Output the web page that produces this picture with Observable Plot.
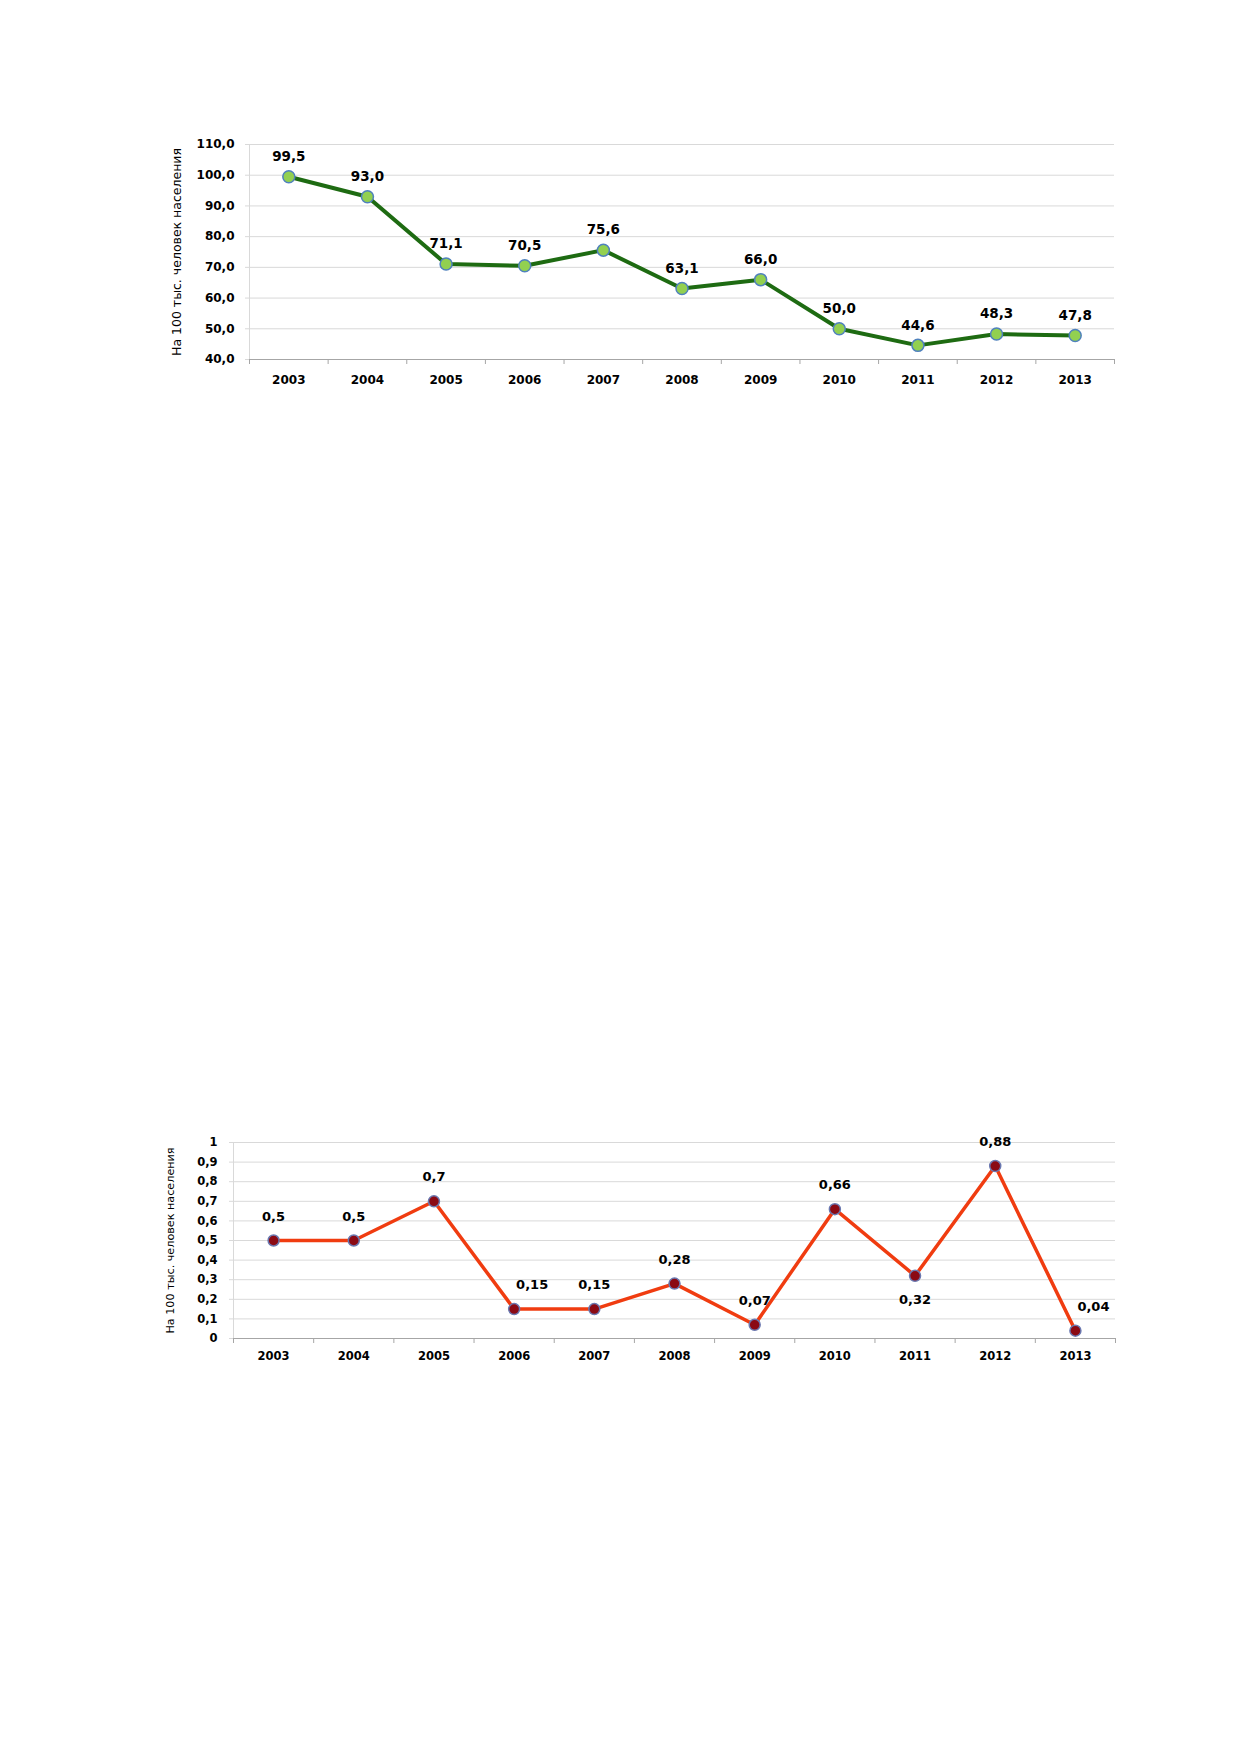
<!DOCTYPE html>
<html><head><meta charset="utf-8">
<script src="https://cdn.jsdelivr.net/npm/d3@7"></script>
<script src="https://cdn.jsdelivr.net/npm/@observablehq/plot@0.6"></script>
<style>
body{margin:0;background:#fff;width:1239px;height:1752px;position:relative;overflow:hidden;}
.chart{position:absolute;left:0;}
</style></head><body>
<div id="c1" class="chart" style="top:100px"></div>
<div id="c2" class="chart" style="top:1100px"></div>
<script>
const years = [2003, 2004, 2005, 2006, 2007, 2008, 2009, 2010, 2011, 2012, 2013];
const rateTop = [99.5, 93.0, 71.1, 70.5, 75.6, 63.1, 66.0, 50.0, 44.6, 48.3, 47.8];
const rateBottom = [0.5, 0.5, 0.7, 0.15, 0.15, 0.28, 0.07, 0.66, 0.32, 0.88, 0.04];
const yTicksTop = [40, 50, 60, 70, 80, 90, 100, 110];
const yTicksBottom = [0, 0.1, 0.2, 0.3, 0.4, 0.5, 0.6, 0.7, 0.8, 0.9, 1];
const axisTitle = "На 100 тыс. человек населения";
const labelsBelowYears = [2011];
const labelsRightYears = [2006, 2013];

const comma = s => String(s).replace(".", ",");
const font = "DejaVu Sans, sans-serif";
const bounds = [...years.map(y => y - 0.5), years[years.length - 1] + 0.5];
const xDomain = [years[0] - 0.5, years[years.length - 1] + 0.5];

const topData = years.map((year, i) => ({year, value: rateTop[i]}));
const botData = years.map((year, i) => ({year, value: rateBottom[i]}));

const chart1 = Plot.plot({
  width: 1239, height: 320,
  marginLeft: 249, marginRight: 125, marginTop: 44, marginBottom: 61,
  style: {fontFamily: font, background: "white", overflow: "visible"},
  x: {type: "linear", domain: xDomain},
  y: {domain: [40, 110]},
  marks: [
    Plot.gridY(yTicksTop, {stroke: "#d9d9d9", strokeOpacity: 1}),
    Plot.ruleX([xDomain[0]], {stroke: "#d9d9d9"}),
    Plot.axisY({ticks: yTicksTop, tickSize: 4, tickPadding: 11, stroke: "#d9d9d9", fill: "#000",
      tickFormat: d => comma(d.toFixed(1)), fontSize: 12, fontWeight: "bold", label: null}),
    Plot.axisX({ticks: bounds, tickSize: 5, tickFormat: () => "", stroke: "#a6a6a6", label: null}),
    Plot.axisX({ticks: years, tickSize: 0, tickPadding: 16, tickFormat: d => String(d),
      fontSize: 12, fontWeight: "bold", fill: "#000", label: null}),
    Plot.ruleY([40], {stroke: "#a6a6a6"}),
    Plot.line(topData, {x: "year", y: "value", stroke: "#1e6b12", strokeWidth: 4}),
    Plot.dot(topData, {x: "year", y: "value", r: 6, fill: "#92d050", stroke: "#4f81bd", strokeWidth: 1.5}),
    Plot.text(topData, {x: "year", y: "value", text: d => comma(d.value.toFixed(1)), dy: -20,
      fontSize: 13.5, fontWeight: "bold", fill: "#000"}),
    Plot.text([axisTitle], {frameAnchor: "left", textAnchor: "middle", rotate: -90, dx: -73,
      fontSize: 12.5, fill: "#000"})
  ]
});
document.getElementById("c1").appendChild(chart1);

const isBelow = d => labelsBelowYears.includes(d.year);
const isRight = d => labelsRightYears.includes(d.year);

const chart2 = Plot.plot({
  width: 1239, height: 300,
  marginLeft: 233, marginRight: 124, marginTop: 42, marginBottom: 62,
  style: {fontFamily: font, background: "white", overflow: "visible"},
  x: {type: "linear", domain: xDomain},
  y: {domain: [0, 1]},
  marks: [
    Plot.gridY(yTicksBottom, {stroke: "#d9d9d9", strokeOpacity: 1}),
    Plot.ruleX([xDomain[0]], {stroke: "#d9d9d9"}),
    Plot.axisY({ticks: yTicksBottom, tickSize: 4, tickPadding: 12, stroke: "#d9d9d9", fill: "#000",
      tickFormat: d => comma(d), fontSize: 11.5, fontWeight: "bold", label: null}),
    Plot.axisX({ticks: bounds, tickSize: 5, tickFormat: () => "", stroke: "#a6a6a6", label: null}),
    Plot.axisX({ticks: years, tickSize: 0, tickPadding: 13, tickFormat: d => String(d),
      fontSize: 11.5, fontWeight: "bold", fill: "#000", label: null}),
    Plot.ruleY([0], {stroke: "#a6a6a6"}),
    Plot.line(botData, {x: "year", y: "value", stroke: "#f03c10", strokeWidth: 3.5}),
    Plot.dot(botData, {x: "year", y: "value", r: 5.5, fill: "#8b0a14", stroke: "#6a78b0", strokeWidth: 1.5}),
    Plot.text(botData.filter(d => !isBelow(d) && !isRight(d)), {x: "year", y: "value",
      text: d => comma(d.value), dy: -24, fontSize: 13, fontWeight: "bold", fill: "#000"}),
    Plot.text(botData.filter(isRight), {x: "year", y: "value",
      text: d => comma(d.value), dx: 18, dy: -24, fontSize: 13, fontWeight: "bold", fill: "#000"}),
    Plot.text(botData.filter(isBelow), {x: "year", y: "value",
      text: d => comma(d.value), dy: 24, fontSize: 13, fontWeight: "bold", fill: "#000"}),
    Plot.text([axisTitle], {frameAnchor: "left", textAnchor: "middle", rotate: -90, dx: -63,
      fontSize: 11.2, fill: "#000"})
  ]
});
document.getElementById("c2").appendChild(chart2);
</script>
</body></html>
